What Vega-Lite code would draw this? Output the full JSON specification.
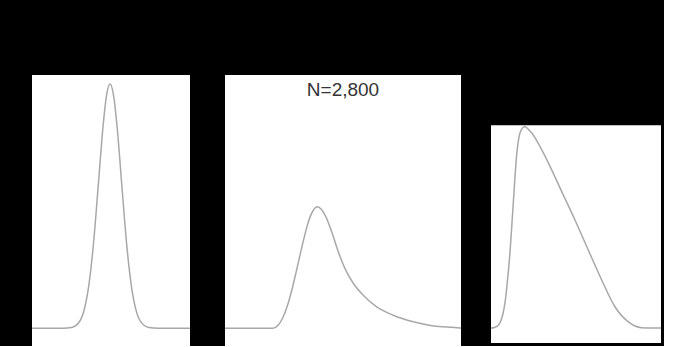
{
  "$schema": "https://vega.github.io/schema/vega-lite/v6.json",
  "background": "black",
  "padding": {"left": 29, "top": 75, "right": 0, "bottom": 0},
  "config": {
    "view": {"fill": "white", "stroke": null}
  },
  "datasets": {
    "p1": [
      {"x": 0, "y": 0}, {"x": 20, "y": 0}, {"x": 25, "y": 0.003}, {"x": 30, "y": 0.0265},
      {"x": 33, "y": 0.0747}, {"x": 36, "y": 0.177}, {"x": 39, "y": 0.352}, {"x": 42, "y": 0.59},
      {"x": 45, "y": 0.829}, {"x": 47, "y": 0.946}, {"x": 49.4, "y": 1.0}, {"x": 52, "y": 0.937},
      {"x": 54, "y": 0.815}, {"x": 57, "y": 0.573}, {"x": 60, "y": 0.338}, {"x": 63, "y": 0.168},
      {"x": 66, "y": 0.07}, {"x": 69, "y": 0.0246}, {"x": 74, "y": 0.003}, {"x": 80, "y": 0},
      {"x": 100, "y": 0}
    ],
    "p2": [
      {"x": 0, "y": 0}, {"x": 20.3, "y": 0}, {"x": 22.5, "y": 0.012}, {"x": 24.6, "y": 0.045},
      {"x": 26.7, "y": 0.1}, {"x": 28.8, "y": 0.175}, {"x": 30.5, "y": 0.245}, {"x": 31.8, "y": 0.3},
      {"x": 33.5, "y": 0.37}, {"x": 34.7, "y": 0.415}, {"x": 36.7, "y": 0.47}, {"x": 39.1, "y": 0.497},
      {"x": 42.4, "y": 0.463}, {"x": 45.2, "y": 0.395}, {"x": 48.0, "y": 0.313}, {"x": 50.8, "y": 0.245},
      {"x": 54.4, "y": 0.183}, {"x": 58.6, "y": 0.135}, {"x": 64.3, "y": 0.087}, {"x": 71.3, "y": 0.053},
      {"x": 79.8, "y": 0.026}, {"x": 88.3, "y": 0.009}, {"x": 99.6, "y": 0.001}, {"x": 100, "y": 0}
    ],
    "p3": [
      {"x": 0, "y": 0}, {"x": 2, "y": 0.003}, {"x": 4, "y": 0.012}, {"x": 5.5, "y": 0.03},
      {"x": 7, "y": 0.07}, {"x": 8.3, "y": 0.13}, {"x": 9.5, "y": 0.22}, {"x": 11.2, "y": 0.38},
      {"x": 13.1, "y": 0.62}, {"x": 15.1, "y": 0.86}, {"x": 17.1, "y": 0.97}, {"x": 19.6, "y": 1.0},
      {"x": 23.9, "y": 0.97}, {"x": 29.8, "y": 0.886}, {"x": 35.7, "y": 0.786}, {"x": 41.6, "y": 0.678},
      {"x": 49.4, "y": 0.537}, {"x": 57.2, "y": 0.388}, {"x": 65.1, "y": 0.239}, {"x": 72.9, "y": 0.106},
      {"x": 80.8, "y": 0.031}, {"x": 88.6, "y": 0.002}, {"x": 94, "y": 0}, {"x": 100, "y": 0}
    ],
    "bg3": [{"x0": 0, "x1": 100, "y0": -0.0745, "y1": 1.008}],
    "lbl": [{"x": 50, "y": 0.975, "label": "N=2,800"}]
  },
  "spacing": 24,
  "hconcat": [
    {
      "spacing": 35,
      "bounds": "flush",
      "hconcat": [
        {
          "width": 158,
          "height": 271,
          "data": {"name": "p1"},
          "mark": {"type": "line", "color": "#a8a8a8", "strokeWidth": 1.5, "interpolate": "monotone"},
          "encoding": {
            "x": {"field": "x", "type": "quantitative", "axis": null, "scale": {"domain": [0, 100], "nice": false}},
            "y": {"field": "y", "type": "quantitative", "axis": null, "scale": {"domain": [-0.073, 1.037], "nice": false, "zero": false}}
          }
        },
        {
          "width": 236,
          "height": 271,
          "layer": [
            {
              "data": {"name": "p2"},
              "mark": {"type": "line", "color": "#a8a8a8", "strokeWidth": 1.5, "interpolate": "monotone"},
              "encoding": {
                "x": {"field": "x", "type": "quantitative", "axis": null, "scale": {"domain": [0, 100], "nice": false}},
                "y": {"field": "y", "type": "quantitative", "axis": null, "scale": {"domain": [-0.073, 1.037], "nice": false, "zero": false}}
              }
            },
            {
              "data": {"name": "lbl"},
              "mark": {"type": "text", "fontSize": 19, "font": "Liberation Sans", "color": "#333333", "baseline": "middle", "align": "center"},
              "encoding": {
                "x": {"field": "x", "type": "quantitative", "axis": null},
                "y": {"field": "y", "type": "quantitative", "axis": null},
                "text": {"field": "label"}
              }
            }
          ]
        }
      ]
    },
    {
      "width": 170,
      "height": 271,
      "view": {"fill": null},
      "layer": [
        {
          "data": {"name": "bg3"},
          "mark": {"type": "rect", "color": "white"},
          "encoding": {
            "x": {"field": "x0", "type": "quantitative", "axis": null, "scale": {"domain": [0, 100], "nice": false}},
            "x2": {"field": "x1"},
            "y": {"field": "y0", "type": "quantitative", "axis": null, "scale": {"domain": [-0.089, 1.257], "nice": false, "zero": false}},
            "y2": {"field": "y1"}
          }
        },
        {
          "data": {"name": "p3"},
          "mark": {"type": "line", "color": "#a8a8a8", "strokeWidth": 1.5, "interpolate": "monotone"},
          "encoding": {
            "x": {"field": "x", "type": "quantitative"},
            "y": {"field": "y", "type": "quantitative"}
          }
        }
      ]
    }
  ]
}
